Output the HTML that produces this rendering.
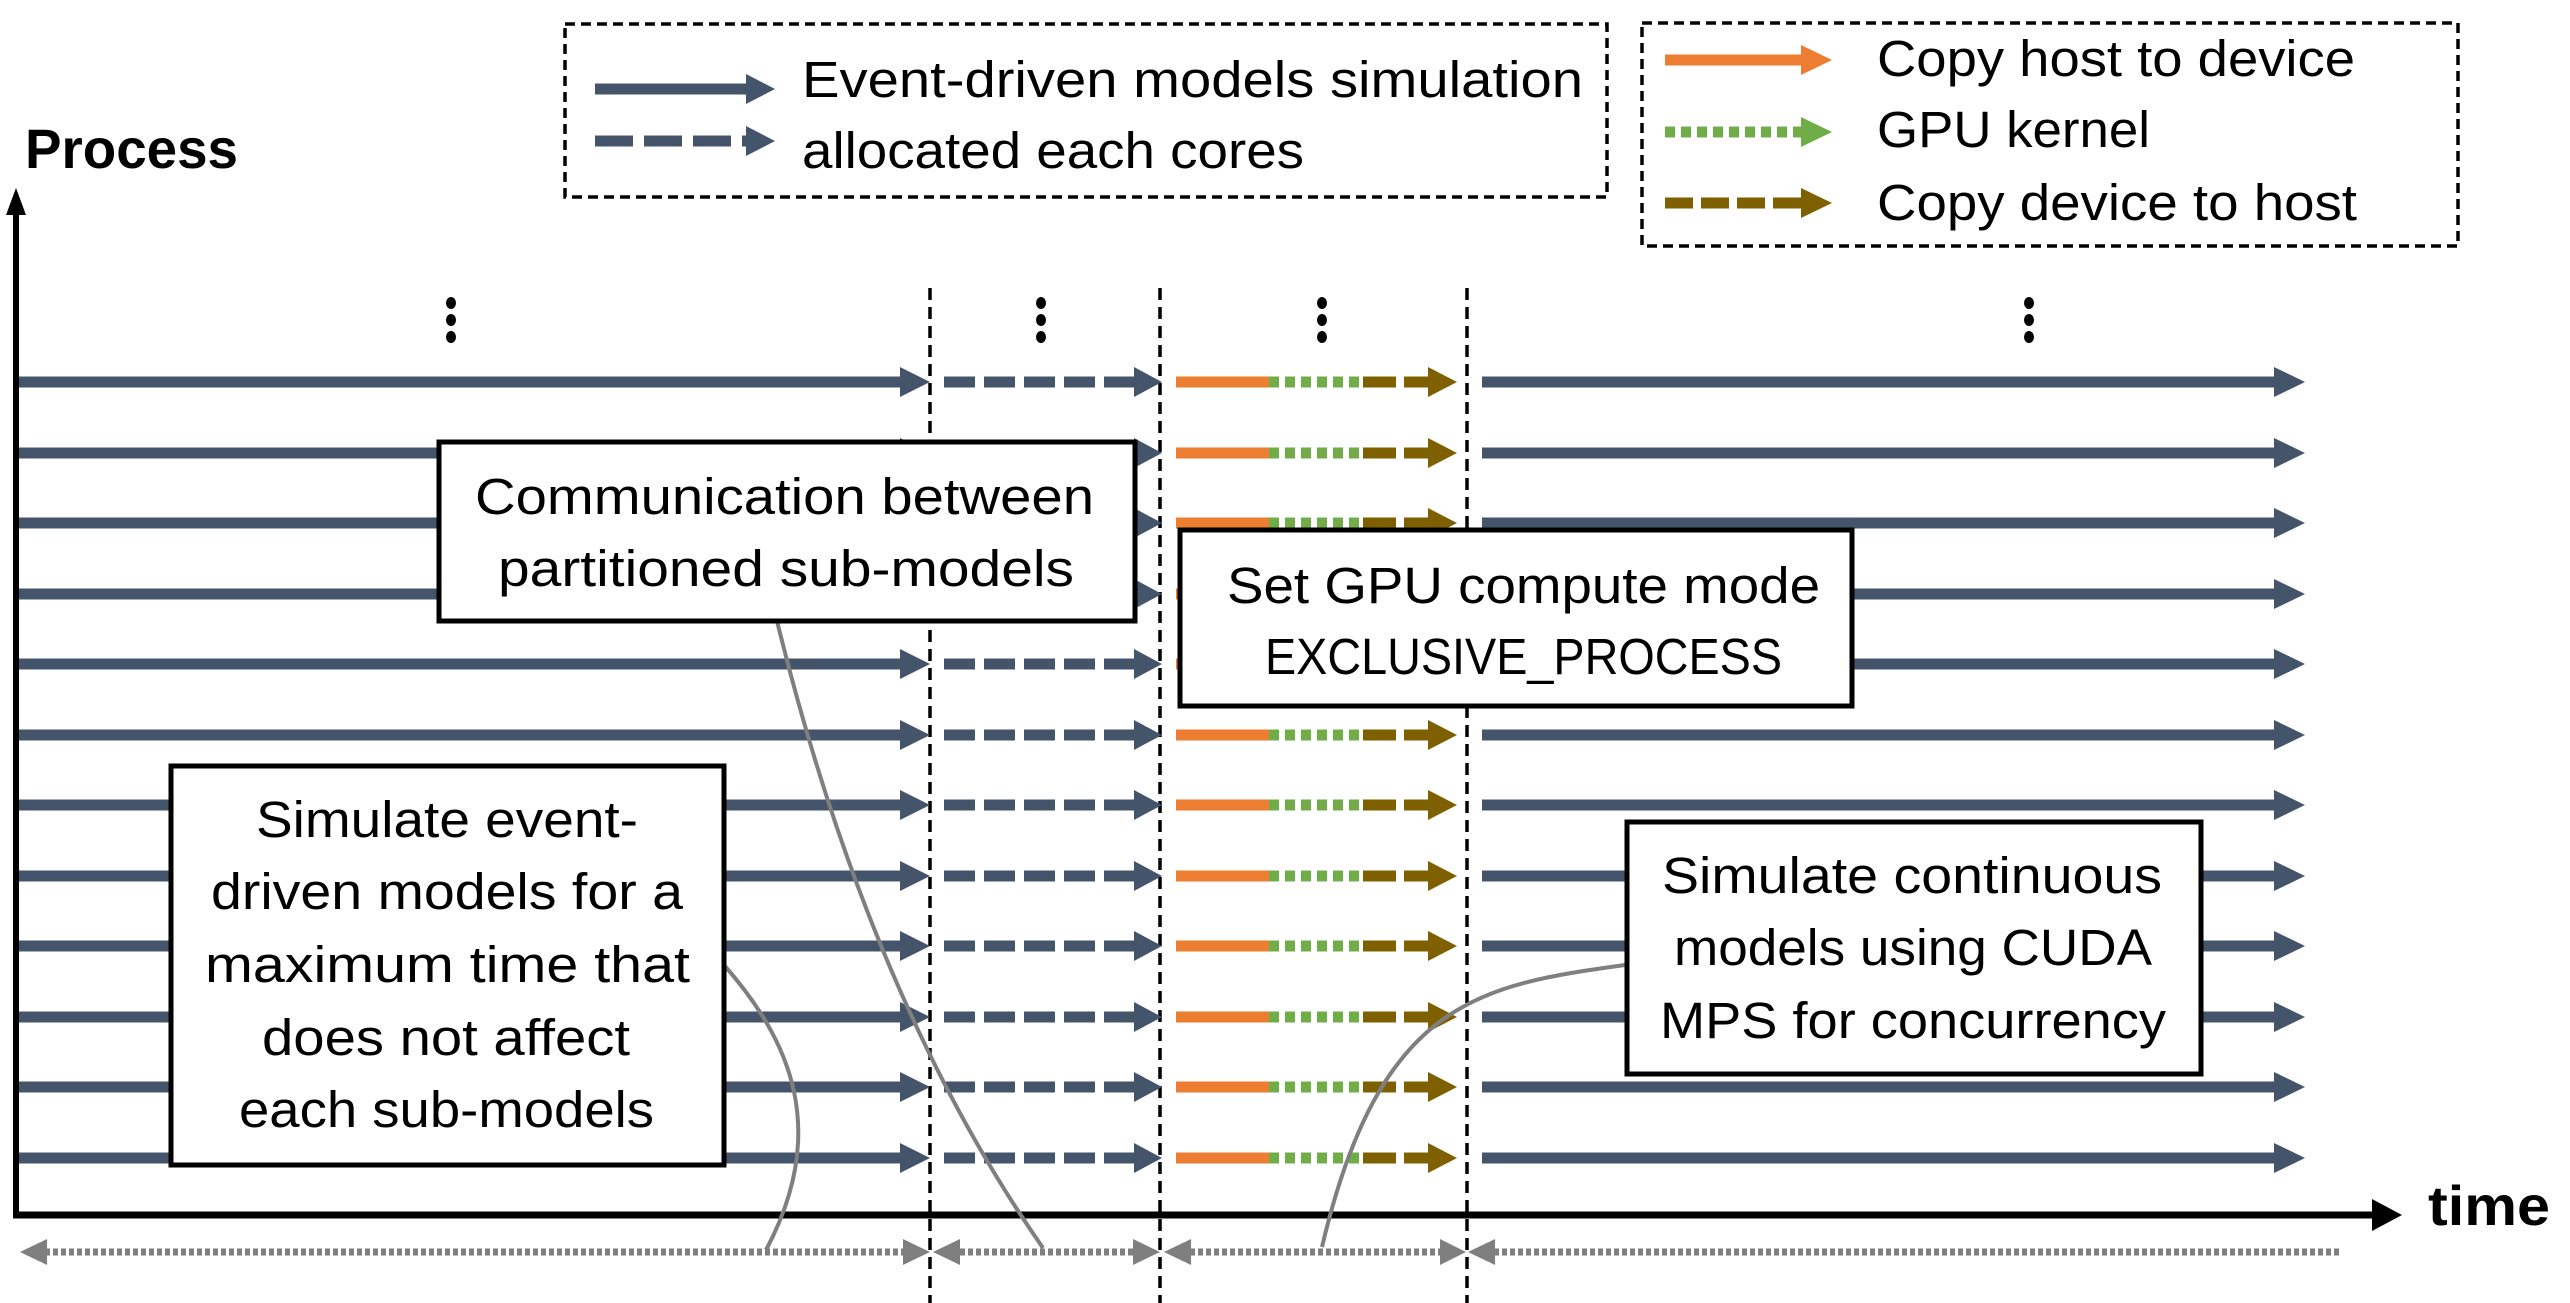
<!DOCTYPE html>
<html><head><meta charset="utf-8"><style>html,body{margin:0;padding:0;background:#fff}svg{display:block}</style></head>
<body>
<svg width="2570" height="1303" viewBox="0 0 2570 1303" xmlns="http://www.w3.org/2000/svg" font-family="'Liberation Sans', sans-serif">
<defs>
<g id="row">
  <line x1="16" y1="0" x2="903" y2="0" stroke="#44546A" stroke-width="11"/>
  <polygon points="900,-15 930,0 900,15" fill="#44546A"/>
  <line x1="944" y1="0" x2="1136" y2="0" stroke="#44546A" stroke-width="11" stroke-dasharray="31 9"/>
  <polygon points="1134,-15 1162,0 1134,15" fill="#44546A"/>
  <line x1="1176" y1="0" x2="1269" y2="0" stroke="#ED7D31" stroke-width="11"/>
  <line x1="1269" y1="0" x2="1363" y2="0" stroke="#70AD47" stroke-width="11" stroke-dasharray="10 6"/>
  <line x1="1363" y1="0" x2="1430" y2="0" stroke="#7F6000" stroke-width="11" stroke-dasharray="33 8"/>
  <polygon points="1428,-15 1457,0 1428,15" fill="#7F6000"/>
  <line x1="1482" y1="0" x2="2276" y2="0" stroke="#44546A" stroke-width="11"/>
  <polygon points="2274,-15 2305,0 2274,15" fill="#44546A"/>
</g>
<g id="dots">
  <ellipse cx="0" cy="303" rx="5" ry="6" fill="#000"/>
  <ellipse cx="0" cy="320" rx="5" ry="6" fill="#000"/>
  <ellipse cx="0" cy="337" rx="5" ry="6" fill="#000"/>
</g>
</defs>

<rect x="565" y="24" width="1042" height="173" fill="none" stroke="#000" stroke-width="3.5" stroke-dasharray="10 6"/>
<line x1="595" y1="89" x2="748" y2="89" stroke="#44546A" stroke-width="11"/>
<polygon points="746,74 775,89 746,104" fill="#44546A"/>
<line x1="595" y1="141" x2="748" y2="141" stroke="#44546A" stroke-width="11" stroke-dasharray="38 11"/>
<polygon points="746,126 775,141 746,156" fill="#44546A"/>
<text x="802" y="97" font-size="51" textLength="781" lengthAdjust="spacingAndGlyphs">Event-driven models simulation</text>
<text x="802" y="168" font-size="51" textLength="502" lengthAdjust="spacingAndGlyphs">allocated each cores</text>

<rect x="1642" y="23" width="816" height="223" fill="none" stroke="#000" stroke-width="3.5" stroke-dasharray="10 6"/>
<line x1="1665" y1="60" x2="1803" y2="60" stroke="#ED7D31" stroke-width="11"/>
<polygon points="1801,45 1832,60 1801,75" fill="#ED7D31"/>
<line x1="1665" y1="132" x2="1803" y2="132" stroke="#70AD47" stroke-width="11" stroke-dasharray="10 6"/>
<polygon points="1801,117 1832,132 1801,147" fill="#70AD47"/>
<line x1="1665" y1="203" x2="1803" y2="203" stroke="#7F6000" stroke-width="11" stroke-dasharray="28 8"/>
<polygon points="1801,188 1832,203 1801,218" fill="#7F6000"/>
<text x="1877" y="76" font-size="51" textLength="478" lengthAdjust="spacingAndGlyphs">Copy host to device</text>
<text x="1877" y="147" font-size="51" textLength="273" lengthAdjust="spacingAndGlyphs">GPU kernel</text>
<text x="1877" y="220" font-size="51" textLength="480" lengthAdjust="spacingAndGlyphs">Copy device to host</text>

<text x="25" y="168" font-size="56" font-weight="bold" textLength="213" lengthAdjust="spacingAndGlyphs">Process</text>
<text x="2428" y="1225" font-size="56" font-weight="bold" textLength="122" lengthAdjust="spacingAndGlyphs">time</text>

<line x1="930" y1="288" x2="930" y2="1303" stroke="#000" stroke-width="3.5" stroke-dasharray="12 7"/>
<line x1="1160" y1="288" x2="1160" y2="1303" stroke="#000" stroke-width="3.5" stroke-dasharray="12 7"/>
<line x1="1467" y1="288" x2="1467" y2="1303" stroke="#000" stroke-width="3.5" stroke-dasharray="12 7"/>

<use href="#dots" x="451"/>
<use href="#dots" x="1041"/>
<use href="#dots" x="1322"/>
<use href="#dots" x="2029"/>

<use href="#row" y="382"/>
<use href="#row" y="453"/>
<use href="#row" y="523"/>
<use href="#row" y="594"/>
<use href="#row" y="664"/>
<use href="#row" y="735"/>
<use href="#row" y="805"/>
<use href="#row" y="876"/>
<use href="#row" y="946"/>
<use href="#row" y="1017"/>
<use href="#row" y="1087"/>
<use href="#row" y="1158"/>

<line x1="16" y1="212" x2="16" y2="1218" stroke="#000" stroke-width="6"/>
<polygon points="6,215 16,188 26,215" fill="#000"/>
<line x1="13" y1="1215" x2="2375" y2="1215" stroke="#000" stroke-width="7"/>
<polygon points="2372,1199 2402,1215 2372,1231" fill="#000"/>

<g stroke="#7F7F7F" stroke-width="7" stroke-dasharray="5 3">
  <line x1="45" y1="1252" x2="905" y2="1252"/>
  <line x1="960" y1="1252" x2="1135" y2="1252"/>
  <line x1="1190" y1="1252" x2="1442" y2="1252"/>
  <line x1="1494" y1="1252" x2="2340" y2="1252"/>
</g>
<g fill="#7F7F7F">
  <polygon points="47,1239 20,1252 47,1265"/>
  <polygon points="903,1239 930,1252 903,1265"/>
  <polygon points="960,1239 933,1252 960,1265"/>
  <polygon points="1133,1239 1160,1252 1133,1265"/>
  <polygon points="1191,1239 1164,1252 1191,1265"/>
  <polygon points="1440,1239 1466,1252 1440,1265"/>
  <polygon points="1495,1239 1468,1252 1495,1265"/>
</g>

<g fill="none" stroke="#7F7F7F" stroke-width="4">
  <path d="M777,621 Q870,1000 1043,1248"/>
  <path d="M724,965 C790,1040 830,1130 766,1250"/>
  <path d="M1625,965 C1480,985 1380,1000 1322,1247"/>
</g>

<g fill="#fff" stroke="#000" stroke-width="5">
  <rect x="439" y="442" width="696" height="179"/>
  <rect x="1180" y="530" width="672" height="176"/>
  <rect x="171" y="766" width="553" height="399"/>
  <rect x="1627" y="822" width="574" height="252"/>
</g>
<g font-size="51">
  <text x="475" y="514" textLength="619" lengthAdjust="spacingAndGlyphs">Communication between</text>
  <text x="498" y="586" textLength="576" lengthAdjust="spacingAndGlyphs">partitioned sub-models</text>
  <text x="1227" y="603" textLength="593" lengthAdjust="spacingAndGlyphs">Set GPU compute mode</text>
  <text x="1265" y="674" textLength="517" lengthAdjust="spacingAndGlyphs">EXCLUSIVE_PROCESS</text>
  <text x="256" y="837" textLength="382" lengthAdjust="spacingAndGlyphs">Simulate event-</text>
  <text x="211" y="909" textLength="472" lengthAdjust="spacingAndGlyphs">driven models for a</text>
  <text x="205" y="982" textLength="485" lengthAdjust="spacingAndGlyphs">maximum time that</text>
  <text x="262" y="1055" textLength="368" lengthAdjust="spacingAndGlyphs">does not affect</text>
  <text x="239" y="1127" textLength="415" lengthAdjust="spacingAndGlyphs">each sub-models</text>
  <text x="1662" y="893" textLength="500" lengthAdjust="spacingAndGlyphs">Simulate continuous</text>
  <text x="1674" y="965" textLength="478" lengthAdjust="spacingAndGlyphs">models using CUDA</text>
  <text x="1660" y="1038" textLength="506" lengthAdjust="spacingAndGlyphs">MPS for concurrency</text>
</g>
</svg>
</body></html>
